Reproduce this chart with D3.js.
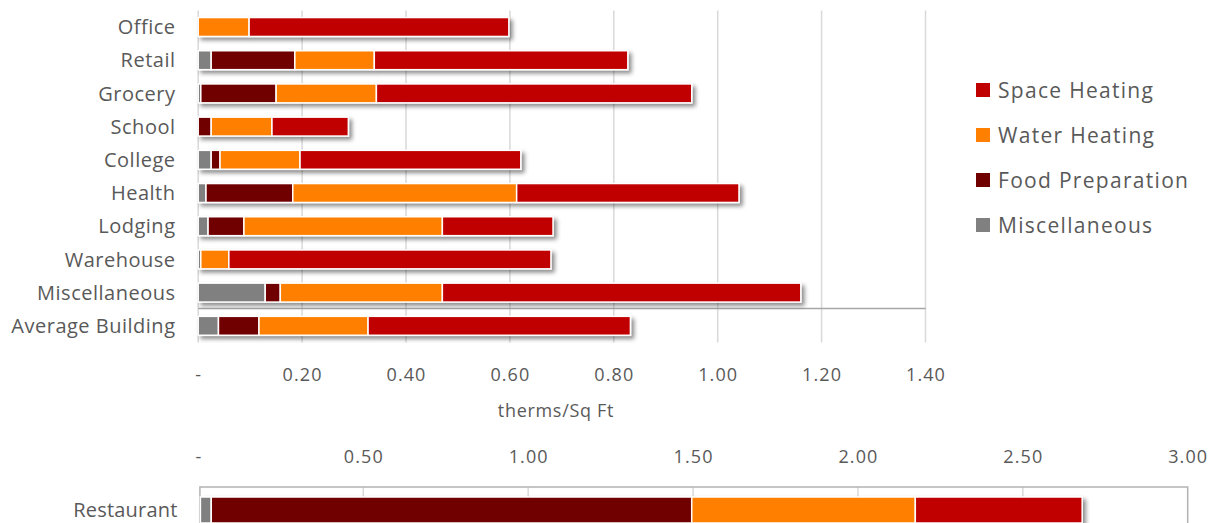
<!DOCTYPE html>
<html>
<head>
<meta charset="utf-8">
<script src="https://cdn.jsdelivr.net/npm/d3@7"></script>
<style>
  html, body { margin: 0; padding: 0; background: #fff; }
  svg { display: block; }
  text { font-family: "Open Sans", "Noto Sans", sans-serif; fill: #595959; }
</style>
</head>
<body>
<svg id="chart" width="1221" height="523"></svg>
<script>
// ---- data ----
const categories = ["Office", "Retail", "Grocery", "School", "College", "Health", "Lodging", "Warehouse", "Miscellaneous", "Average Building"];
const miscellaneous   = [0.000, 0.025, 0.005, 0.000, 0.025, 0.015, 0.019, 0.005, 0.129, 0.039];
const foodPreparation = [0.000, 0.161, 0.145, 0.025, 0.017, 0.167, 0.069, 0.000, 0.029, 0.078];
const waterHeating    = [0.098, 0.153, 0.193, 0.117, 0.154, 0.431, 0.382, 0.054, 0.312, 0.210];
const spaceHeating    = [0.500, 0.488, 0.607, 0.147, 0.425, 0.428, 0.213, 0.620, 0.690, 0.505];

const restaurantCategory = ["Restaurant"];
const restaurantMisc  = [0.039];
const restaurantFood  = [1.457];
const restaurantWater = [0.678];
const restaurantSpace = [0.506];

const seriesNames = ["Miscellaneous", "Food Preparation", "Water Heating", "Space Heating"];
const legendOrder = ["Space Heating", "Water Heating", "Food Preparation", "Miscellaneous"];
const topTicks = [0, 0.2, 0.4, 0.6, 0.8, 1.0, 1.2, 1.4];
const bottomTicks = [0, 0.5, 1.0, 1.5, 2.0, 2.5, 3.0];
const axisTitle = "therms/Sq Ft";

const colors = {
  "Space Heating": "#C00000",
  "Water Heating": "#FF8000",
  "Food Preparation": "#700000",
  "Miscellaneous": "#808080"
};

// ---- build tables ----
function table(cats, m, f, w, s) {
  return cats.map((c, i) => ({
    category: c,
    "Miscellaneous": m[i],
    "Food Preparation": f[i],
    "Water Heating": w[i],
    "Space Heating": s[i]
  }));
}
const topData = table(categories, miscellaneous, foodPreparation, waterHeating, spaceHeating);
const botData = table(restaurantCategory, restaurantMisc, restaurantFood, restaurantWater, restaurantSpace);
const stack = d3.stack().keys(seriesNames);

const svg = d3.select("#chart");
const fmt = v => v === 0 ? "-" : d3.format(".2f")(v);

// shadow filter
const defs = svg.append("defs");
const flt = defs.append("filter").attr("id", "shadow")
  .attr("x", "-5%").attr("y", "-30%").attr("width", "115%").attr("height", "180%");
flt.append("feDropShadow").attr("dx", 3).attr("dy", 3).attr("stdDeviation", 2.2)
  .attr("flood-color", "#000").attr("flood-opacity", 0.45);

// ---- top chart ----
const xTop = d3.scaleLinear().domain([0, 1.4]).range([198.2, 925.5]);
const yTop = d3.scaleBand().domain(categories).range([10.4, 342.4])
  .paddingInner(0.43).paddingOuter(0.215);

const gTop = svg.append("g");
gTop.append("g").selectAll("line").data(topTicks).join("line")
  .attr("x1", d => xTop(d)).attr("x2", d => xTop(d))
  .attr("y1", yTop.range()[0]).attr("y2", yTop.range()[1])
  .attr("stroke", "#d9d9d9").attr("stroke-width", 1.5);

// horizontal rule
gTop.append("line")
  .attr("x1", xTop(0)).attr("x2", xTop(1.4))
  .attr("y1", 308.5).attr("y2", 308.5)
  .attr("stroke", "#a6a6a6").attr("stroke-width", 1.5);

const topStack = stack(topData);
const rowsTop = gTop.append("g").selectAll("g.row").data(topData).join("g")
  .attr("class", "row").attr("filter", "url(#shadow)");
rowsTop.each(function(d, i) {
  const g = d3.select(this);
  topStack.forEach(layer => {
    const seg = layer[i];
    if (seg[1] - seg[0] <= 0) return;
    g.append("rect")
      .attr("x", xTop(seg[0])).attr("width", xTop(seg[1]) - xTop(seg[0]))
      .attr("y", yTop(d.category)).attr("height", yTop.bandwidth())
      .attr("fill", colors[layer.key])
      .attr("stroke", "#fff").attr("stroke-width", 1.5);
  });
});

// category labels
const catLS = 0.5;
gTop.append("g").selectAll("text").data(categories).join("text")
  .attr("x", 175 + catLS).attr("y", d => yTop(d) + yTop.bandwidth() / 2)
  .attr("dy", "0.36em").attr("text-anchor", "end")
  .style("font-size", "20px").style("letter-spacing", catLS + "px")
  .text(d => d);

// top axis ticks labels
const axTop = d3.axisBottom(xTop).tickValues(topTicks).tickFormat(fmt).tickSize(0).tickPadding(0);
const gAxTop = svg.append("g").attr("transform", "translate(0,375)").call(axTop);
gAxTop.select(".domain").remove();
gAxTop.selectAll("text").attr("y", 0).attr("dy", "0.36em")
  .style("font-family", "'Open Sans', sans-serif").style("font-size", "18px")
  .style("letter-spacing", "1.1px").attr("fill", "#595959");

svg.append("text").attr("x", 556).attr("y", 411).attr("dy", "0.36em")
  .attr("text-anchor", "middle").style("font-size", "18px").style("letter-spacing", "0.7px")
  .text(axisTitle);

// legend
const legend = svg.append("g").selectAll("g").data(legendOrder).join("g")
  .attr("transform", (d, i) => `translate(976,${90 + i * 45})`);
legend.append("rect").attr("x", 0).attr("y", -7).attr("width", 14).attr("height", 14)
  .attr("fill", d => colors[d]);
legend.append("text").attr("x", 22).attr("y", 0).attr("dy", "0.36em")
  .style("font-size", "21px").style("letter-spacing", "1.3px")
  .text(d => d);

// ---- bottom chart ----
const xBot = d3.scaleLinear().domain([0, 3]).range([198.4, 1187.7]);
const yBot = d3.scaleBand().domain(restaurantCategory).range([497, 523]).padding(0);
const plotTop = 487;

const gBot = svg.append("g");
gBot.append("g").selectAll("line").data(bottomTicks.slice(1, -1)).join("line")
  .attr("x1", d => xBot(d)).attr("x2", d => xBot(d))
  .attr("y1", plotTop).attr("y2", 530)
  .attr("stroke", "#d9d9d9").attr("stroke-width", 1.5);
// plot border
gBot.append("path")
  .attr("d", `M${xBot(0) + 1.5},530 V${plotTop} H${xBot(3)} V530`)
  .attr("fill", "none").attr("stroke", "#b3b3b3").attr("stroke-width", 1.5);

const botStack = stack(botData);
const rowsBot = gBot.append("g").selectAll("g.row").data(botData).join("g")
  .attr("class", "row").attr("filter", "url(#shadow)");
rowsBot.each(function(d, i) {
  const g = d3.select(this);
  botStack.forEach(layer => {
    const seg = layer[i];
    if (seg[1] - seg[0] <= 0) return;
    g.append("rect")
      .attr("x", xBot(seg[0]) + (seg[0] === 0 ? 2 : 0))
      .attr("width", xBot(seg[1]) - xBot(seg[0]) - (seg[0] === 0 ? 2 : 0))
      .attr("y", yBot(d.category)).attr("height", yBot.bandwidth())
      .attr("fill", colors[layer.key])
      .attr("stroke", "#fff").attr("stroke-width", 1.5);
  });
});

gBot.append("g").selectAll("text").data(restaurantCategory).join("text")
  .attr("x", 177 + catLS).attr("y", d => yBot(d) + yBot.bandwidth() / 2)
  .attr("dy", "0.36em").attr("text-anchor", "end")
  .style("font-size", "20px").style("letter-spacing", "0.2px")
  .text(d => d);

const axBot = d3.axisBottom(xBot).tickValues(bottomTicks).tickFormat(fmt).tickSize(0).tickPadding(0);
const gAxBot = svg.append("g").attr("transform", "translate(0,457)").call(axBot);
gAxBot.select(".domain").remove();
gAxBot.selectAll("text").attr("y", 0).attr("dy", "0.36em")
  .style("font-family", "'Open Sans', sans-serif").style("font-size", "18px")
  .style("letter-spacing", "1.1px").attr("fill", "#595959");
</script>
</body>
</html>
